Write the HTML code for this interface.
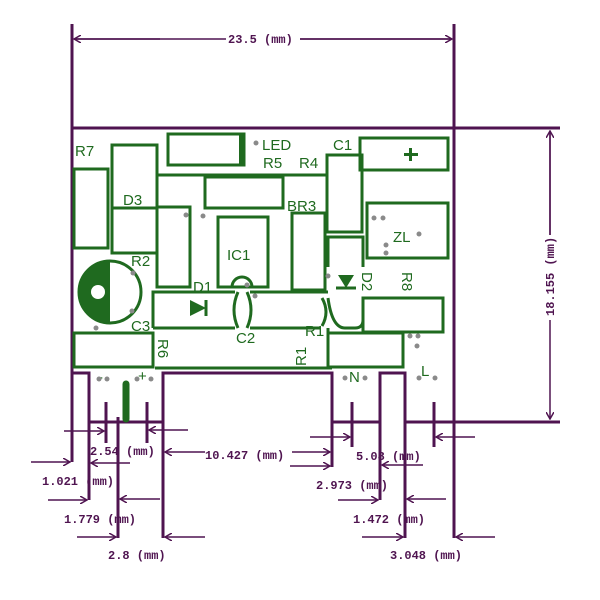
<!DOCTYPE html>
<html><head><meta charset="utf-8"><style>
html,body{margin:0;padding:0;background:#fff;width:600px;height:600px;overflow:hidden}
svg{display:block}
.p{stroke:#4f1450;fill:none}
.g{stroke:#1f6a1f;fill:none;stroke-width:3}
.gt{fill:#1f6a1f;font-family:"Liberation Sans",sans-serif;font-size:15px}
.pt{fill:#4f1450;font-family:"Liberation Mono",monospace;font-size:12px;font-weight:bold}
.d{fill:#8a8a8a}
</style></head><body>
<svg width="600" height="600" viewBox="0 0 600 600" xmlns="http://www.w3.org/2000/svg">
<defs>
<marker id="a" markerWidth="8" markerHeight="8" refX="7" refY="4" orient="auto" markerUnits="userSpaceOnUse"><path d="M0,0 L7,4 L0,8" fill="none" stroke="#4f1450" stroke-width="1.5"/></marker>
</defs>
<!-- top dimension -->
<g class="p" stroke-width="3">
<line x1="72" y1="24" x2="72" y2="128"/><line x1="454" y1="24" x2="454" y2="128"/>
<line x1="72" y1="128" x2="560" y2="128"/>
<line x1="454" y1="422" x2="560" y2="422"/>
</g>
<g class="p" stroke-width="1.5">
<line x1="160" y1="39" x2="74" y2="39" marker-end="url(#a)"/>
<line x1="300" y1="39" x2="452" y2="39" marker-end="url(#a)"/>
<line x1="550" y1="235" x2="550" y2="131" marker-end="url(#a)"/>
<line x1="550" y1="320" x2="550" y2="419" marker-end="url(#a)"/>
</g>
<line x1="76" y1="39" x2="226" y2="39" stroke="#4f1450" stroke-width="1.5"/>
<line x1="300" y1="39" x2="452" y2="39" stroke="#4f1450" stroke-width="1.5"/>
<line x1="550" y1="131" x2="550" y2="235" stroke="#4f1450" stroke-width="1.5"/>
<text class="pt" x="228" y="43">23.5 (mm)</text>
<text class="pt" transform="translate(554,316) rotate(-90)">18.155 (mm)</text>
<!-- board sides -->
<g class="p" stroke-width="3">
<line x1="72" y1="128" x2="72" y2="462"/>
<line x1="454" y1="128" x2="454" y2="538"/>
<polyline points="72,373 89,373 89,500"/>
<line x1="118" y1="417" x2="118" y2="538"/>
<polyline points="163,538 163,373 332,373 332,467"/>
<polyline points="380,500 380,373 405,373 405,538"/>
<line x1="89" y1="422" x2="163" y2="422"/>
<line x1="332" y1="422" x2="380" y2="422"/>
<line x1="405" y1="422" x2="560" y2="422"/>
<line x1="106" y1="402" x2="106" y2="443"/><line x1="147" y1="402" x2="147" y2="443"/>
<line x1="352" y1="402" x2="352" y2="447"/><line x1="434" y1="402" x2="434" y2="447"/>
</g>
<line x1="126" y1="384" x2="126" y2="419" stroke="#1f6a1f" stroke-width="7" stroke-linecap="round"/>
<!-- bottom arrows -->
<g class="p" stroke-width="1.5">
<line x1="64" y1="431" x2="104" y2="431" marker-end="url(#a)"/>
<line x1="188" y1="430" x2="149" y2="430" marker-end="url(#a)"/>
<line x1="205" y1="452" x2="165" y2="452" marker-end="url(#a)"/>
<line x1="292" y1="452" x2="330" y2="452" marker-end="url(#a)"/>
<line x1="310" y1="437" x2="350" y2="437" marker-end="url(#a)"/>
<line x1="475" y1="437" x2="436" y2="437" marker-end="url(#a)"/>
<line x1="31" y1="462" x2="70" y2="462" marker-end="url(#a)"/>
<line x1="130" y1="463" x2="91" y2="463" marker-end="url(#a)"/>
<line x1="290" y1="466" x2="330" y2="466" marker-end="url(#a)"/>
<line x1="423" y1="465" x2="382" y2="465" marker-end="url(#a)"/>
<line x1="48" y1="500" x2="87" y2="500" marker-end="url(#a)"/>
<line x1="160" y1="499" x2="120" y2="499" marker-end="url(#a)"/>
<line x1="338" y1="500" x2="378" y2="500" marker-end="url(#a)"/>
<line x1="446" y1="499" x2="407" y2="499" marker-end="url(#a)"/>
<line x1="77" y1="537" x2="116" y2="537" marker-end="url(#a)"/>
<line x1="205" y1="537" x2="165" y2="537" marker-end="url(#a)"/>
<line x1="362" y1="537" x2="403" y2="537" marker-end="url(#a)"/>
<line x1="495" y1="537" x2="456" y2="537" marker-end="url(#a)"/>
</g>
<text class="pt" x="90" y="455">2.54 (mm)</text>
<text class="pt" x="205" y="459">10.427 (mm)</text>
<text class="pt" x="356" y="460">5.08 (mm)</text>
<text class="pt" x="42" y="485">1.021 (mm)</text>
<text class="pt" x="316" y="489">2.973 (mm)</text>
<text class="pt" x="64" y="523">1.779 (mm)</text>
<text class="pt" x="353" y="523">1.472 (mm)</text>
<text class="pt" x="108" y="559">2.8 (mm)</text>
<text class="pt" x="390" y="559">3.048 (mm)</text>
<!-- green components -->
<g class="g">
<rect x="168" y="134" width="76" height="31"/>
<rect x="360" y="138" width="88" height="32"/>
<rect x="74" y="169" width="34" height="79"/>
<rect x="112" y="145" width="45" height="108"/>
<line x1="112" y1="208" x2="157" y2="208"/>
<polyline points="157,208 157,175 328,175"/>
<rect x="205" y="177" width="78" height="31"/>
<rect x="327" y="155" width="35" height="77"/>
<rect x="367" y="203" width="81" height="55"/>
<rect x="157" y="207" width="33" height="80"/>
<rect x="218" y="217" width="50" height="70"/>
<rect x="292" y="213" width="33" height="77"/>
<polyline points="328,267 328,237 363,237 363,267"/>
<polyline points="153,328 153,292 235,292"/><polyline points="250,292 328,292"/>
<polyline points="153,328 235,328"/><polyline points="250,328 320,328"/>
<path d="M328,298 Q332,328 345,328 L355,328 Q363,328 363,320 L363,298"/>
<path d="M238,292 Q230,310 238,328"/><path d="M247,292 Q255,310 247,328"/>
<path d="M232,287 A10,10 0 0 1 252,287"/>
<path d="M322,298 Q330,312 322,326"/>
<rect x="363" y="298" width="80" height="34"/>
<rect x="328" y="333" width="75" height="34"/>
<rect x="74" y="333" width="79" height="34"/>
<line x1="155" y1="368" x2="332" y2="368"/>
<line x1="328" y1="328" x2="328" y2="368"/>
</g>
<rect x="239" y="134" width="6" height="31" fill="#1f6a1f"/>
<path d="M190,300 L206,308 L190,316 Z" fill="#1f6a1f"/><line x1="206" y1="300" x2="206" y2="316" stroke="#1f6a1f" stroke-width="3"/>
<path d="M338,275 L346,288 L354,275 Z" fill="#1f6a1f"/><line x1="336" y1="288" x2="356" y2="288" stroke="#1f6a1f" stroke-width="3"/>
<circle cx="110" cy="292" r="31" fill="#fff" stroke="#1f6a1f" stroke-width="3"/>
<path d="M110,261 A31,31 0 0 0 110,323 Z" fill="#1f6a1f"/>
<circle cx="98" cy="292" r="7" fill="#fff"/>
<rect x="404" y="153" width="14" height="3" fill="#1f6a1f"/><rect x="409" y="148" width="3" height="13" fill="#1f6a1f"/>
<!-- labels -->
<g class="gt">
<text x="262" y="150">LED</text>
<text x="333" y="150">C1</text>
<text x="75" y="156">R7</text>
<text x="263" y="168">R5</text><text x="299" y="168">R4</text>
<text x="123" y="205">D3</text>
<text x="287" y="211">BR3</text>
<text x="393" y="242">ZL</text>
<text x="227" y="260">IC1</text>
<text x="131" y="266">R2</text>
<text x="193" y="292">D1</text>
<text x="131" y="331">C3</text>
<text x="236" y="343">C2</text>
<text x="305" y="336">R1</text>
<text x="349" y="382">N</text>
<text x="421" y="376">L</text>
<text x="98" y="382">-</text><text x="138" y="381">+</text>
<text transform="translate(158,339) rotate(90)">R6</text>
<text transform="translate(306,366) rotate(-90)">R1</text>
<text transform="translate(362,272) rotate(90)">D2</text>
<text transform="translate(402,272) rotate(90)">R8</text>
</g>
<g class="d">
<circle cx="256" cy="143" r="2.5"/><circle cx="186" cy="215" r="2.5"/><circle cx="203" cy="216" r="2.5"/>
<circle cx="374" cy="218" r="2.5"/><circle cx="383" cy="218" r="2.5"/><circle cx="419" cy="234" r="2.5"/>
<circle cx="386" cy="245" r="2.5"/><circle cx="386" cy="253" r="2.5"/><circle cx="247" cy="285" r="2.5"/>
<circle cx="255" cy="296" r="2.5"/><circle cx="133" cy="273" r="2.5"/><circle cx="132" cy="311" r="2.5"/>
<circle cx="96" cy="328" r="2.5"/><circle cx="328" cy="276" r="2.5"/><circle cx="410" cy="336" r="2.5"/>
<circle cx="418" cy="336" r="2.5"/><circle cx="417" cy="346" r="2.5"/><circle cx="419" cy="378" r="2.5"/>
<circle cx="435" cy="378" r="2.5"/><circle cx="345" cy="378" r="2.5"/><circle cx="365" cy="378" r="2.5"/>
<circle cx="99" cy="379" r="2.5"/><circle cx="107" cy="379" r="2.5"/><circle cx="137" cy="379" r="2.5"/><circle cx="151" cy="379" r="2.5"/>
</g>
</svg>
</body></html>
